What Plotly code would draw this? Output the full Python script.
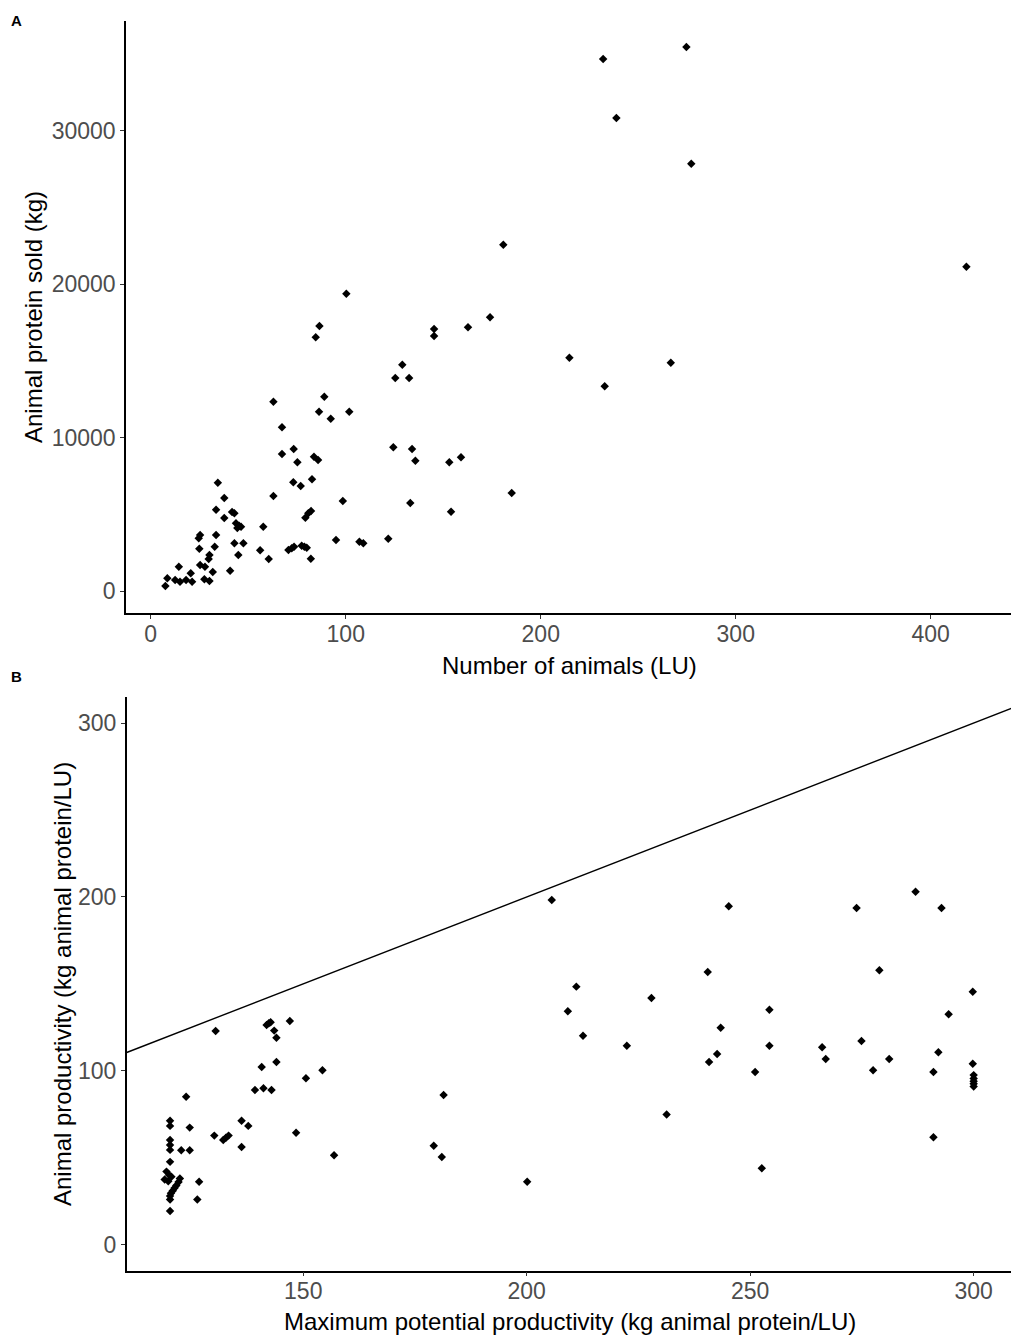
import plotly.graph_objects as go

# ---- panel A: number of animals vs animal protein sold ----
animals_lu = [62.9, 89.0, 86.3, 92.3, 101.8, 67.3, 67.3, 73.3, 75.2, 83.7,
              85.8, 124.4, 134.0, 135.7, 133.1, 98.5, 73.1, 76.9, 82.7, 62.9,
              34.4, 37.7, 33.5, 41.7, 42.9, 37.7, 43.7, 45.3, 46.3, 44.4,
              57.7, 79.3, 80.8, 82.2, 25.3, 24.6, 33.5, 24.9, 32.8, 42.9,
              47.5, 44.9, 56.1, 60.5, 30.1, 29.7, 70.6, 72.3, 73.5, 77.4,
              78.8, 80.0, 82.1, 95.0, 107.0, 109.0, 121.8, 25.3, 27.8, 31.8,
              40.7, 14.4, 20.5, 27.5, 30.1, 8.5, 12.5, 15.0, 18.1, 21.2,
              7.5, 180.8, 100.3, 86.5, 84.6, 145.3, 145.3, 162.7, 174.0, 129.0,
              125.4, 132.5, 214.7, 266.7, 232.8, 153.1, 159.1, 154.0, 185.1, 232.0,
              274.7, 238.8, 277.2, 418.3]
protein_sold_kg = [12338, 12664, 11686, 11230, 11686, 10669, 8929, 9255, 8388, 8753,
                   8538, 9366, 9255, 8492, 5735, 5866, 7085, 6843, 7280, 6192,
                   7058, 6061, 5299, 5149, 5064, 4758, 4412, 4256, 4191, 4106,
                   4191, 4777, 5064, 5214, 3650, 3435, 3650, 2757, 2887, 3109,
                   3109, 2346, 2653, 2086, 2346, 2086, 2672, 2783, 2887, 2952,
                   2887, 2822, 2105, 3324, 3213, 3109, 3409, 1695, 1584, 1238,
                   1323, 1584, 1154, 763, 652, 828, 717, 606, 717, 606,
                   326, 22570, 19377, 17272, 16535, 17076, 16620, 17187, 17839, 14749,
                   13883, 13883, 15206, 14880, 13342, 8388, 8714, 5168, 6387, 34674,
                   35456, 30828, 27850, 21137]

# ---- panel B: max potential vs actual productivity ----
max_productivity = [130.4, 141.8, 142.3, 142.7, 143.5, 144.0, 147.0, 144.0, 140.7, 154.3,
                    150.6, 139.2, 141.1, 142.9, 123.8, 136.2, 137.7, 120.2, 120.2, 124.6,
                    130.1, 132.1, 132.7, 133.3, 136.2, 148.4, 156.9, 120.2, 120.2, 120.2,
                    122.7, 124.6, 120.2, 119.4, 120.0, 120.5, 119.0, 119.8, 122.4, 122.1,
                    121.6, 121.2, 120.8, 120.4, 120.2, 120.2, 126.7, 126.3, 120.2,
                    205.6, 211.1, 227.9, 209.2, 212.6, 222.4, 181.4, 179.2, 181.0, 200.1,
                    245.2, 273.8, 287.0, 292.8, 240.5, 278.9, 299.8, 294.4, 254.3, 243.4,
                    254.3, 242.6, 240.8, 251.1, 266.1, 266.9, 274.9, 281.1, 277.5, 292.1,
                    291.0, 299.8, 300, 300, 300, 300, 300, 231.3, 291.0, 252.6]
productivity = [122.9, 126.3, 127.3, 127.9, 123.1, 119.0, 128.6, 105.1, 102.2, 100.3,
                95.7, 89.0, 89.9, 89.0, 85.1, 71.3, 68.3, 71.3, 68.3, 67.3,
                62.7, 60.2, 61.5, 62.7, 56.2, 64.4, 51.4, 60.2, 57.3, 54.5,
                54.3, 54.3, 47.6, 42.0, 40.1, 39.1, 37.5, 36.5, 38.0, 36.0,
                34.0, 32.5, 31.0, 29.5, 28.0, 26.0, 36.2, 25.9, 19.4,
                198.2, 148.4, 141.9, 134.2, 120.2, 114.4, 86.1, 56.9, 50.4, 36.2,
                194.6, 193.6, 203.0, 193.6, 156.8, 157.8, 145.5, 132.5, 135.1, 124.8,
                114.4, 109.7, 105.1, 99.3, 113.5, 106.8, 117.1, 106.8, 100.3, 110.6,
                99.3, 104.1, 97.5, 95.5, 94.0, 92.5, 91.0, 74.8, 61.8, 43.9]

# 1:1 reference line (y = x)
ref_slope = 1
ref_intercept = 0

a_xticks = [0, 100, 200, 300, 400]
a_yticks = [0, 10000, 20000, 30000]
b_xticks = [150, 200, 250, 300]
b_yticks = [0, 100, 200, 300]

a_xrange = [-12.7, 442.2]
a_yrange = [-1453, 37170]
b_xrange = [110.5, 308.8]
b_yrange = [-15, 315]

FONT = "Liberation Sans, Arial, sans-serif"
TICK_GREY = "#4D4D4D"

# the page has an 8px body margin, so shift everything by that much
PAGE_MARGIN = 8
W, H = 1019 - PAGE_MARGIN, 1339 - PAGE_MARGIN


def fx(px):
    # window pixel x -> paper fraction
    return (px - PAGE_MARGIN) / W


def fy(py):
    # window pixel y (from top) -> paper fraction (from bottom)
    return (H - (py - PAGE_MARGIN)) / H


marker = dict(symbol="diamond", size=6.5, color="black")

fig = go.Figure()
fig.add_trace(go.Scatter(x=animals_lu, y=protein_sold_kg, mode="markers",
                         marker=marker, xaxis="x", yaxis="y", showlegend=False))
fig.add_trace(go.Scatter(x=b_xrange, y=[ref_intercept + ref_slope * v for v in b_xrange],
                         mode="lines", line=dict(color="black", width=1.4),
                         xaxis="x2", yaxis="y2", showlegend=False))
fig.add_trace(go.Scatter(x=max_productivity, y=productivity, mode="markers",
                         marker=marker, xaxis="x2", yaxis="y2", showlegend=False))


def axis_style(tickvals, rng, domain, anchor, label_shift=0):
    return dict(
        domain=domain, range=rng, anchor=anchor,
        tickvals=tickvals, tickformat="d",
        showline=True, linecolor="black", linewidth=1.5,
        ticks="outside", ticklen=4, tickwidth=1.2, tickcolor="#333333",
        ticklabelstandoff=label_shift,
        tickfont=dict(family=FONT, size=23, color=TICK_GREY),
        showgrid=False, zeroline=False,
    )


fig.update_layout(
    width=W, height=H,
    margin=dict(l=0, r=0, t=0, b=0),
    paper_bgcolor="white", plot_bgcolor="white",
    font=dict(family=FONT),
    xaxis=axis_style(a_xticks, a_xrange, [fx(126), fx(1013)], "y", -5),
    yaxis=axis_style(a_yticks, a_yrange, [fy(613.3), fy(20.7)], "x"),
    xaxis2=axis_style(b_xticks, b_xrange, [fx(126.7), fx(1013)], "y2", -5),
    yaxis2=axis_style(b_yticks, b_yrange, [fy(1270.7), fy(697)], "x2"),
)

title_font = dict(family=FONT, size=24, color="black")
labels = [
    ("Number of animals (LU)", 569.5, 665, 0),
    ("Animal protein sold (kg)", 33, 317, -90),
    ("Maximum potential productivity (kg animal protein/LU)", 570, 1321, 0),
    ("Animal productivity (kg animal protein/LU)", 62, 984, -90),
]
for text, px, py, angle in labels:
    fig.add_annotation(text=text, x=fx(px), y=fy(py), xref="paper", yref="paper",
                       showarrow=False, textangle=angle, font=title_font,
                       xanchor="center", yanchor="middle")

# panel letters
for letter, py in [("A", 20), ("B", 676)]:
    fig.add_annotation(text="<b>%s</b>" % letter, x=fx(16), y=fy(py),
                       xref="paper", yref="paper", showarrow=False,
                       font=dict(family=FONT, size=15, color="black"),
                       xanchor="center", yanchor="middle")

fig.write_html("out.html")
